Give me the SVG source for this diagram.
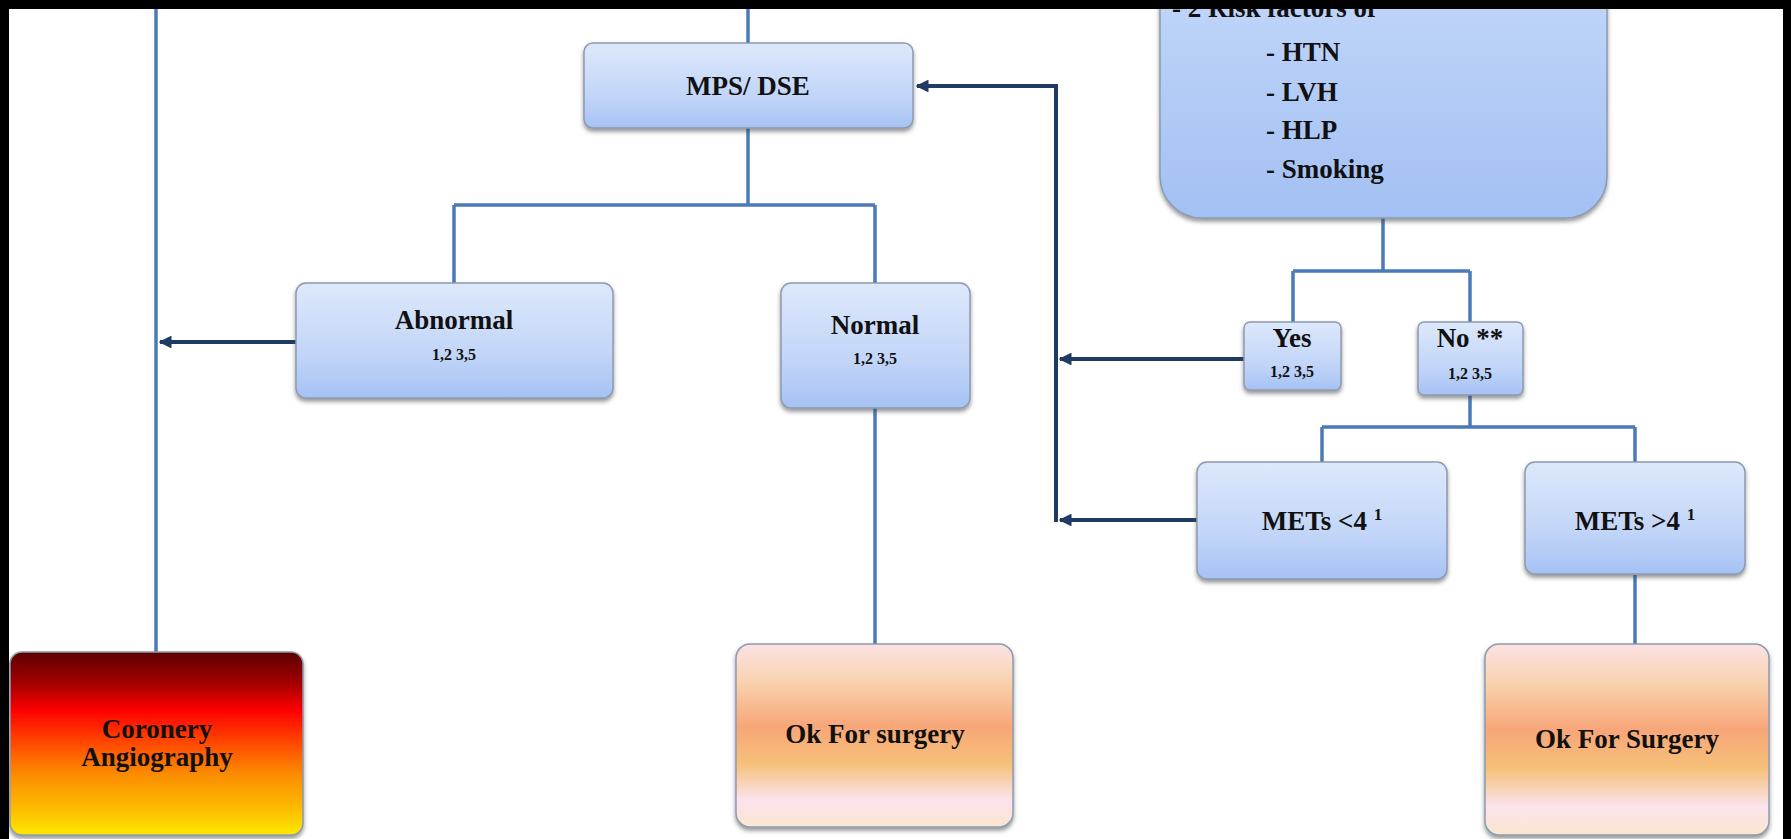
<svg xmlns="http://www.w3.org/2000/svg" width="1791" height="839" viewBox="0 0 1791 839">
<defs>
<linearGradient id="gBlue" x1="0" y1="0" x2="0" y2="1">
<stop offset="0" stop-color="#dde8fb"/>
<stop offset="0.6" stop-color="#c3d6f8"/>
<stop offset="1" stop-color="#a6c2f4"/>
</linearGradient>
<linearGradient id="gRisk" x1="0" y1="0" x2="0" y2="1">
<stop offset="0" stop-color="#c9dcfb"/>
<stop offset="1" stop-color="#a3c0f3"/>
</linearGradient>
<linearGradient id="gOrange" x1="0" y1="0" x2="0" y2="1">
<stop offset="0" stop-color="#fbe2e4"/>
<stop offset="0.2" stop-color="#f9d3b0"/>
<stop offset="0.45" stop-color="#f7a678"/>
<stop offset="0.65" stop-color="#f6c078"/>
<stop offset="0.85" stop-color="#fbe3ec"/>
<stop offset="1" stop-color="#fbe6cf"/>
</linearGradient>
<linearGradient id="gRed" x1="0" y1="0" x2="0" y2="1">
<stop offset="0" stop-color="#5c0202"/>
<stop offset="0.18" stop-color="#a80000"/>
<stop offset="0.32" stop-color="#ff0000"/>
<stop offset="0.5" stop-color="#ff4a00"/>
<stop offset="0.68" stop-color="#fb9000"/>
<stop offset="0.85" stop-color="#fcba00"/>
<stop offset="1" stop-color="#fde800"/>
</linearGradient>
<filter id="sh" x="-10%" y="-10%" width="120%" height="130%">
<feDropShadow dx="0" dy="3" stdDeviation="2" flood-color="#404040" flood-opacity="0.55"/>
</filter>
<marker id="ah" viewBox="0 0 10 10" refX="9" refY="5" markerWidth="3.2" markerHeight="3.2" orient="auto" markerUnits="strokeWidth">
<path d="M0,0 L10,5 L0,10 z" fill="#1f3b64"/>
</marker>
<style>
.bx{stroke:#8d9bb0;stroke-width:1.5;filter:url(#sh)}
.blue{fill:url(#gBlue)}
.org{fill:url(#gOrange)}
.t{font-family:"Liberation Serif","Times New Roman",serif;font-weight:bold;fill:#111;text-anchor:middle}
.big{font-size:27px}
.sm{font-size:16px}
.rk{font-family:"Liberation Serif","Times New Roman",serif;font-weight:bold;fill:#111;font-size:27px}
.ln{stroke:#4a7bb8;stroke-width:3.5;fill:none}
.ar{stroke:#1f3b64;stroke-width:4;fill:none}
</style>
</defs>
<rect width="1791" height="839" fill="#ffffff"/>

<g id="connectors">
<path class="ln" d="M156,9 V652"/>
<path class="ln" d="M748,9 V43"/>
<path class="ln" d="M748,128 V205 M454,205 H875 M454,205 V283 M875,205 V283"/>
<path class="ln" d="M875,408 V644"/>
<path class="ln" d="M1383,218 V271 M1293,271 H1470 M1293,271 V322 M1470,271 V322"/>
<path class="ln" d="M1470,395 V427 M1322,427 H1635 M1322,427 V462 M1635,427 V462"/>
<path class="ln" d="M1635,575 V644"/>
<path class="ar" d="M296,342 H160" marker-end="url(#ah)"/>
<path class="ar" d="M1244,359 H1060" marker-end="url(#ah)"/>
<path class="ar" d="M1197,520 H1060" marker-end="url(#ah)"/>
<path class="ar" d="M1056,522 V86 H917" marker-end="url(#ah)"/>
</g>

<g id="risk">
<rect class="bx" x="1160" y="-80" width="447" height="298" rx="42" fill="url(#gRisk)"/>
<text class="rk" x="1172" y="17">- 2 Risk factors of</text>
<text class="rk" x="1266" y="61">- HTN</text>
<text class="rk" x="1266" y="101">- LVH</text>
<text class="rk" x="1266" y="139">- HLP</text>
<text class="rk" x="1266" y="178">- Smoking</text>
</g>

<g id="mps">
<rect class="bx blue" x="584" y="43" width="329" height="85" rx="9"/>
<text class="t big" x="748" y="95">MPS/ DSE</text>
</g>

<g id="abnormal">
<rect class="bx blue" x="296" y="283" width="317" height="115" rx="10"/>
<text class="t big" x="454" y="329">Abnormal</text>
<text class="t sm" x="454" y="360">1,2 3,5</text>
</g>

<g id="normal">
<rect class="bx blue" x="781" y="283" width="189" height="125" rx="10"/>
<text class="t big" x="875" y="334">Normal</text>
<text class="t sm" x="875" y="364">1,2 3,5</text>
</g>

<g id="yes">
<rect class="bx blue" x="1244" y="322" width="97" height="68" rx="6"/>
<text class="t big" x="1292" y="347">Yes</text>
<text class="t sm" x="1292" y="377">1,2 3,5</text>
</g>

<g id="no">
<rect class="bx blue" x="1418" y="322" width="105" height="73" rx="6"/>
<text class="t big" x="1470" y="347">No **</text>
<text class="t sm" x="1470" y="379">1,2 3,5</text>
</g>

<g id="mets-low">
<rect class="bx blue" x="1197" y="462" width="250" height="117" rx="10"/>
<text class="t big" x="1322" y="530">METs &lt;4 <tspan font-size="17" dy="-10">1</tspan></text>
</g>

<g id="mets-high">
<rect class="bx blue" x="1525" y="462" width="220" height="112" rx="10"/>
<text class="t big" x="1635" y="530">METs &gt;4 <tspan font-size="17" dy="-10">1</tspan></text>
</g>

<g id="coronary">
<rect class="bx" x="10" y="652" width="293" height="183" rx="12" fill="url(#gRed)"/>
<text class="t big" x="157" y="738">Coronery</text>
<text class="t big" x="157" y="766">Angiography</text>
</g>

<g id="ok1">
<rect class="bx org" x="736" y="644" width="277" height="183" rx="14"/>
<text class="t big" x="875" y="743">Ok For surgery</text>
</g>

<g id="ok2">
<rect class="bx org" x="1485" y="644" width="284" height="191" rx="14"/>
<text class="t big" x="1627" y="748">Ok For Surgery</text>
</g>

<rect x="0" y="0" width="1791" height="9" fill="#000"/>
<rect x="0" y="0" width="9" height="839" fill="#000"/>
<rect x="1783" y="0" width="8" height="839" fill="#000"/>
</svg>
